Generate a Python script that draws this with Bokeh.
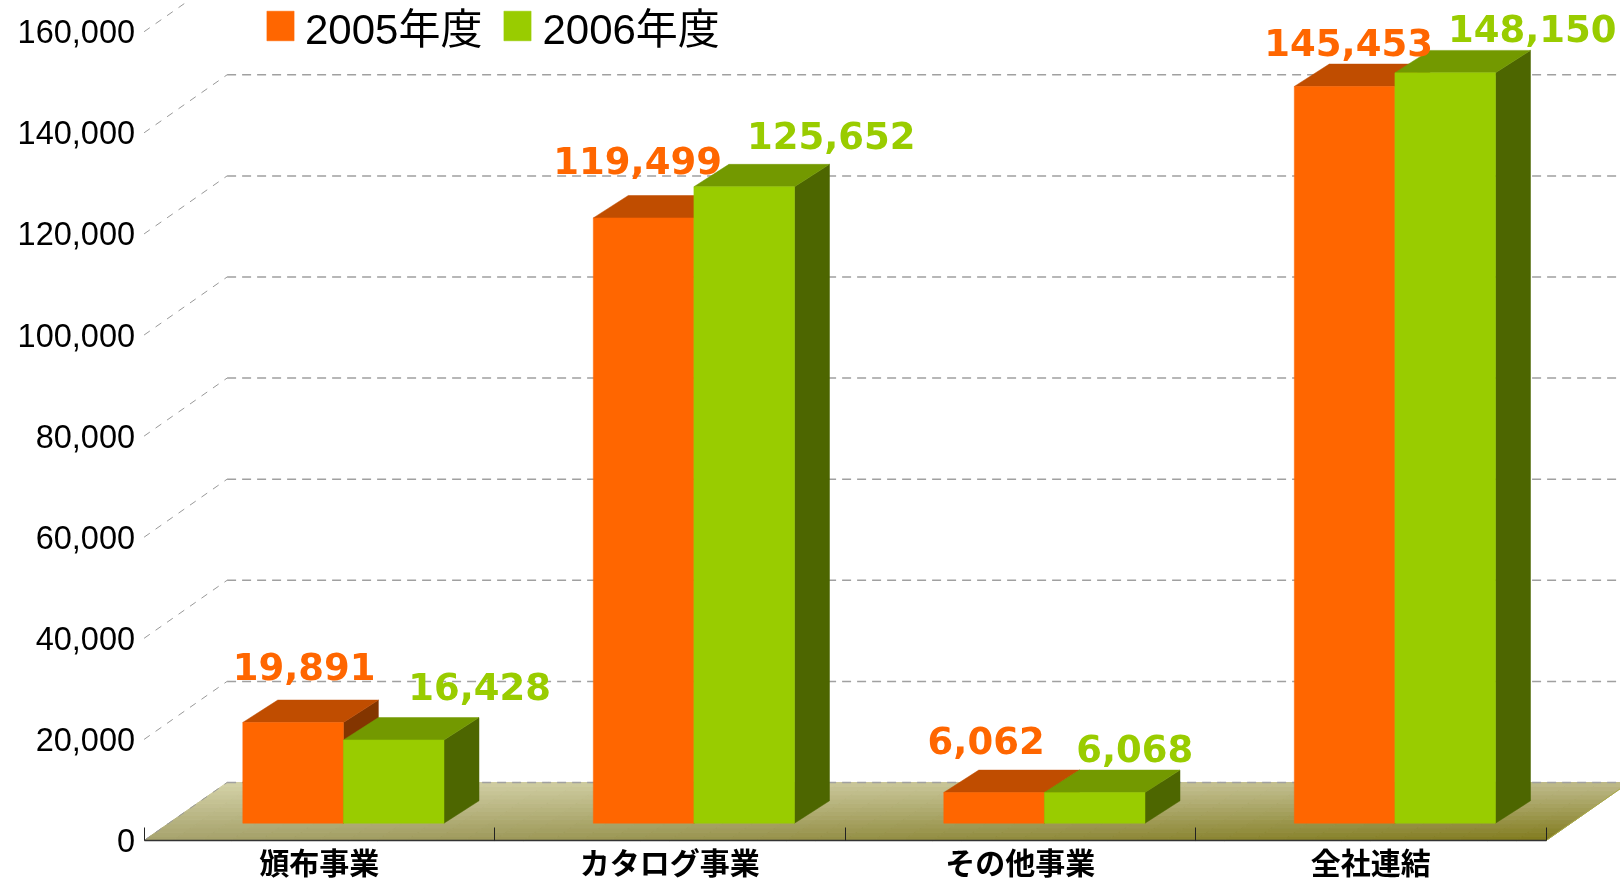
from bokeh.core.properties import value
from bokeh.embed import file_html
from bokeh.models import (ColumnDataSource, FixedTicker, Legend, LegendItem,
                          NumeralTickFormatter, Range1d)
from bokeh.plotting import figure
from bokeh.resources import INLINE

categories = ["頒布事業", "カタログ事業", "その他事業", "全社連結"]
series_names = ["2005年度", "2006年度"]
values_2005 = [19891, 119499, 6062, 145453]
values_2006 = [16428, 125652, 6068, 148150]
y_ticks = [0, 20000, 40000, 60000, 80000, 100000, 120000, 140000, 160000]

# separate label placement (screen px, relative to each bar's front top centre)
label_dx_2005 = [11, -6, -8, 4]
label_dy_2005 = [56, 57, 52, 44]
label_dx_2006 = [86, 87, 40, 87]
label_dy_2006 = [53, 51, 44, 44]

W, H = 1620, 879
ORIGIN_X, ORIGIN_Y = 143.6, 840.0
PX_PER_CAT = 350.5
PX_PER_UNIT = 101.1 / 20000
DEPTH_X = 83 / PX_PER_CAT          # wall depth in category units
DEPTH_Y = 58 / PX_PER_UNIT         # wall depth in value units
FRONT = 17.3 / 58                  # bar front plane, fraction of the depth
BAR_DX = 35 / PX_PER_CAT           # bar thickness in category units
BAR_DY = 22.4 / PX_PER_UNIT        # bar thickness in value units
BAR_SCALE = 1.002
BAR_W = 0.287
BAR_GAP = 0.211
UI_FONT = "'Liberation Sans', 'Noto Sans CJK JP'"

x_range = Range1d(-ORIGIN_X / PX_PER_CAT, (W - ORIGIN_X) / PX_PER_CAT)
y_range = Range1d(-(H - ORIGIN_Y) / PX_PER_UNIT, ORIGIN_Y / PX_PER_UNIT)

p = figure(width=W, height=H, x_range=x_range, y_range=y_range,
           output_backend="svg", toolbar_location=None,
           min_border=0, outline_line_color=None,
           background_fill_color="white", border_fill_color="white",
           styles={"position": "fixed", "left": "0", "top": "0"})
p.grid.visible = False


def mix(a, b, t):
    return tuple(a[i] + (b[i] - a[i]) * t for i in range(3))


# floor with a diagonal gradient
BACK_L, BACK_R = (212, 210, 168), (190, 186, 138)
FRONT_L, FRONT_R = (166, 162, 108), (128, 122, 28)
NX, NY = 48, 14
fx, fy, fc = [], [], []
for i in range(NX):
    for j in range(NY):
        u0, u1 = 4 * i / NX, 4 * (i + 1) / NX
        d0, d1 = j / NY, (j + 1) / NY
        fx.append([u0 + d0 * DEPTH_X, u1 + d0 * DEPTH_X, u1 + d1 * DEPTH_X, u0 + d1 * DEPTH_X])
        fy.append([d0 * DEPTH_Y, d0 * DEPTH_Y, d1 * DEPTH_Y, d1 * DEPTH_Y])
        s, t = (i + 0.5) / NX, (j + 0.5) / NY
        c = mix(mix(FRONT_L, FRONT_R, s), mix(BACK_L, BACK_R, s), t)
        fc.append("#%02x%02x%02x" % tuple(int(round(v)) for v in c))
p.patches(fx, fy, fill_color=fc, line_color=fc, line_width=1)
p.line([4, 4 + DEPTH_X], [0, DEPTH_Y], line_color="#a8a848", line_width=1)

# walls: dashed gridlines
p.segment(x0=[DEPTH_X] * len(y_ticks), y0=[v + DEPTH_Y for v in y_ticks],
          x1=[4 + DEPTH_X] * len(y_ticks), y1=[v + DEPTH_Y for v in y_ticks],
          line_color="#a0a0a0", line_width=1.5, line_dash="9 6")
p.segment(x0=[0] * len(y_ticks), y0=y_ticks,
          x1=[DEPTH_X] * len(y_ticks), y1=[v + DEPTH_Y for v in y_ticks],
          line_color="#999999", line_width=1, line_dash="7 7")


def draw_series(vals, name, slot, front_c, top_c, side_c, ldx, ldy):
    dxf, dyf = FRONT * DEPTH_X, FRONT * DEPTH_Y
    dxb, dyb = dxf + BAR_DX, dyf + BAR_DY
    lefts = [i + BAR_GAP + slot * BAR_W for i in range(len(vals))]
    rights = [l + BAR_W for l in lefts]
    tops = [v * BAR_SCALE for v in vals]
    p.patches([[r + dxf, r + dxb, r + dxb, r + dxf] for r in rights],
              [[dyf, dyb, t + dyb, t + dyf] for t in tops],
              fill_color=side_c, line_color=side_c, line_width=0.5)
    p.patches([[l + dxf, r + dxf, r + dxb, l + dxb] for l, r in zip(lefts, rights)],
              [[t + dyf, t + dyf, t + dyb, t + dyb] for t in tops],
              fill_color=top_c, line_color=top_c, line_width=0.5)
    bar = p.vbar(x=[(l + r) / 2 + dxf for l, r in zip(lefts, rights)], width=BAR_W,
                 bottom=dyf, top=[t + dyf for t in tops],
                 fill_color=front_c, line_color=front_c, line_width=0.5)
    return bar, dict(x=[(l + r) / 2 + dxf for l, r in zip(lefts, rights)],
                     y=[t + dyf for t in tops],
                     text=[f"{v:,}" for v in vals], xo=ldx, yo=[-d for d in ldy])


bar_a, lab_a = draw_series(values_2005, series_names[0], 0, "#ff6600", "#c04d00", "#833500",
                           label_dx_2005, label_dy_2005)
bar_b, lab_b = draw_series(values_2006, series_names[1], 1, "#99cc00", "#739900", "#4d6600",
                           label_dx_2006, label_dy_2006)

for lab, col in ((lab_a, "#ff6600"), (lab_b, "#99cc00")):
    p.text(x="x", y="y", text="text", x_offset="xo", y_offset="yo",
           source=ColumnDataSource(lab), text_color=col, text_align="center",
           text_baseline="middle", text_font=value("DejaVu Sans"),
           text_font_style="bold", text_font_size="37px")

# axes
xa = p.xaxis[0]
xa.fixed_location = 0
xa.bounds = (0, 4)
xa.ticker = FixedTicker(ticks=[i + 0.5 for i in range(4)], minor_ticks=[0, 1, 2, 3, 4])
xa.major_label_overrides = {i + 0.5: c for i, c in enumerate(categories)}
xa.major_tick_line_color = None
xa.minor_tick_line_color = "#222222"
xa.minor_tick_in = 13
xa.minor_tick_out = 0
xa.axis_line_color = "#333333"
xa.axis_line_width = 1.5
xa.major_label_text_font = UI_FONT
xa.major_label_text_font_style = "bold"
xa.major_label_text_font_size = "30px"
xa.major_label_text_color = "#000000"
xa.major_label_standoff = 0

ya = p.yaxis[0]
ya.fixed_location = 0
ya.ticker = FixedTicker(ticks=y_ticks)
ya.formatter = NumeralTickFormatter(format="0,0")
ya.axis_line_color = None
ya.major_tick_line_color = None
ya.minor_tick_line_color = None
ya.major_label_text_font = UI_FONT
ya.major_label_text_font_size = "32.5px"
ya.major_label_text_color = "#000000"
ya.major_label_standoff = 3

legend = Legend(items=[LegendItem(label=series_names[0], renderers=[bar_a]),
                       LegendItem(label=series_names[1], renderers=[bar_b])],
                orientation="horizontal", location=(263, 823),
                glyph_width=34, glyph_height=37, label_standoff=8, spacing=18,
                padding=0, margin=0, border_line_color=None, background_fill_alpha=0,
                label_text_font=UI_FONT, label_text_font_size="42px",
                label_text_baseline="alphabetic",
                label_text_color="#000000", label_height=53)
p.add_layout(legend, "center")

open("out.html", "w").write(file_html(p, INLINE))
